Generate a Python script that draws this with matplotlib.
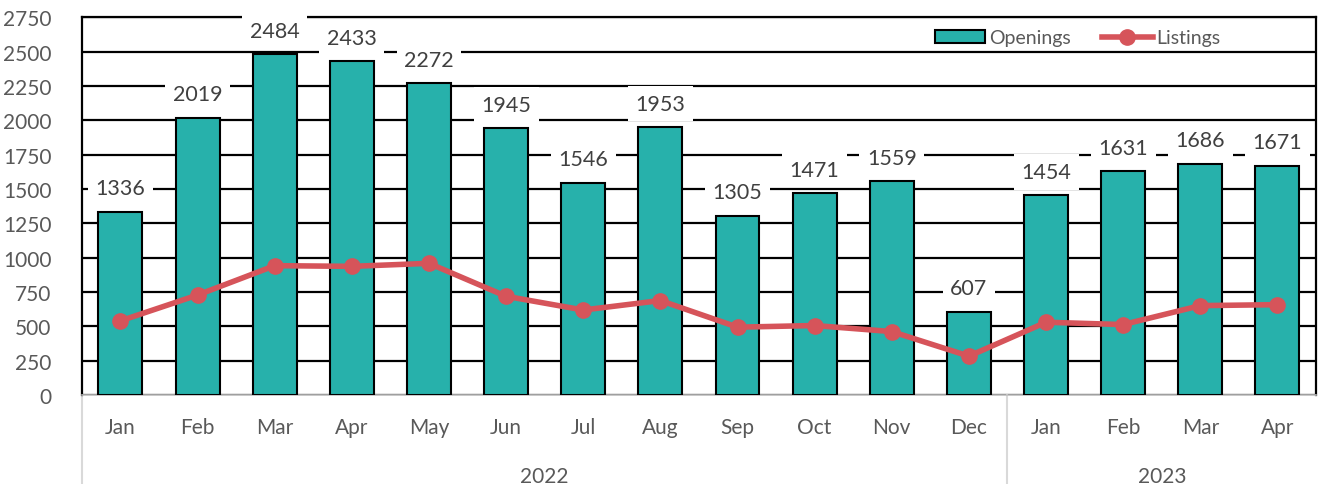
import numpy as np
import matplotlib.pyplot as plt

months = ['Jan', 'Feb', 'Mar', 'Apr', 'May', 'Jun', 'Jul', 'Aug', 'Sep', 'Oct', 'Nov', 'Dec',
          'Jan', 'Feb', 'Mar', 'Apr']
years = ['2022', '2023']
year_spans = [(0, 11), (12, 15)]
openings = [1336, 2019, 2484, 2433, 2272, 1945, 1546, 1953, 1305, 1471, 1559, 607,
            1454, 1631, 1686, 1671]
listings = [540, 728, 942, 937, 959, 719, 619, 688, 494, 506, 462, 283,
            530, 513, 651, 658]

teal = '#27B1AB'
red = '#D6545A'
grey_txt = '#595959'

plt.rcParams['font.family'] = ['Lato', 'DejaVu Sans']

fig = plt.figure(figsize=(13.2, 4.85), dpi=100)
ax = fig.add_axes([0.062, 0.1835, 0.935, 0.7785])

x = np.arange(len(months))
bars = ax.bar(x, openings, width=0.57, color=teal, edgecolor='black', linewidth=1.5,
              zorder=3, label='Openings')
line, = ax.plot(x, listings, color=red, lw=4, marker='o', ms=11, zorder=4, label='Listings')

# data labels with white box so they cut the gridlines
for xi, v in zip(x, openings):
    ax.text(xi, v + 170, str(v), ha='center', va='center', fontsize=15.5, color='#404040',
            bbox=dict(facecolor='white', edgecolor='none', boxstyle='square,pad=0.35'),
            zorder=6, clip_on=False)

ax.set_xlim(-0.5, len(months) - 0.5)
ax.set_ylim(0, 2750)
ax.set_yticks(np.arange(0, 2751, 250))
ax.yaxis.grid(True, color='black', lw=1.6, zorder=0)
ax.set_axisbelow(True)
ax.tick_params(axis='y', length=0, labelsize=15, labelcolor=grey_txt, pad=22)
ax.set_xticks(x)
ax.set_xticklabels(months)
ax.tick_params(axis='x', length=0, labelsize=15, labelcolor=grey_txt, pad=16)

for s in ['top', 'right', 'left']:
    ax.spines[s].set_color('black')
    ax.spines[s].set_linewidth(1.6)
ax.spines['bottom'].set_color('#BFBFBF')
ax.spines['bottom'].set_linewidth(1.2)

# second level of the category axis
tr = ax.get_xaxis_transform()
for xs in [-0.5, 11.5]:
    ax.plot([xs, xs], [0, -0.24], transform=tr, color='#D9D9D9', lw=1.5, clip_on=False)
for yr, (a, b) in zip(years, year_spans):
    ax.text((a + b) / 2, -0.215, yr, transform=tr, ha='center', va='center',
            fontsize=15, color=grey_txt)

ax.legend([bars, line], ['Openings', 'Listings'], loc='center', bbox_to_anchor=(0.807, 0.946),
          ncol=2, frameon=False, fontsize=14, labelcolor=grey_txt, handlelength=2.6,
          handletextpad=0.2, columnspacing=1.6)

fig.savefig('out.png', dpi=100)
